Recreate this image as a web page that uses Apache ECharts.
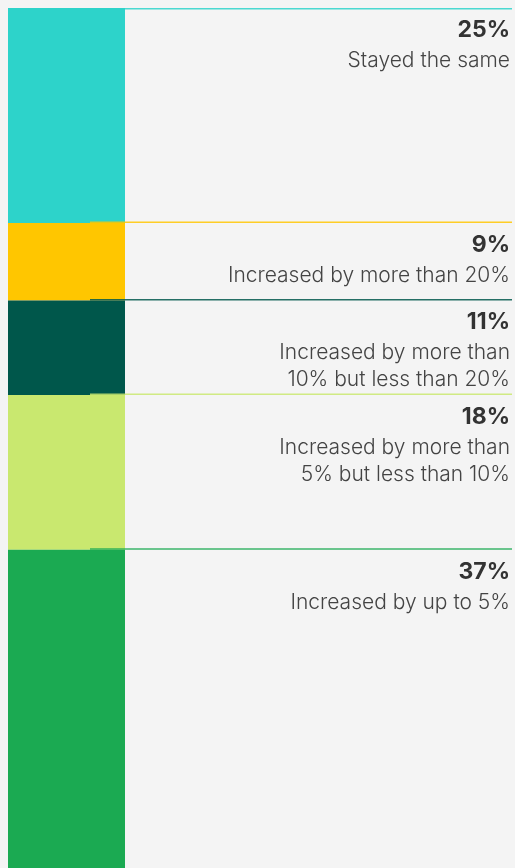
<!DOCTYPE html>
<html>
<head>
<meta charset="utf-8">
<script src="https://cdn.jsdelivr.net/npm/echarts@6/dist/echarts.min.js"></script>
<style>
html,body{margin:0;padding:0;background:#f4f4f4;}
#chart{width:515px;height:868px;}
</style>
</head>
<body>
<div id="chart"></div>
<script>
const categories = [
  'Stayed the same',
  'Increased by more than 20%',
  'Increased by more than\n10% but less than 20%',
  'Increased by more than\n5% but less than 10%',
  'Increased by up to 5%'
];
const values = [25, 9, 11, 18, 37];
const colors = ['#2dd3ca', '#ffc600', '#00574b', '#c9e86f', '#1baa52'];

const starts = [];
let acc = 0;
values.forEach(v => { starts.push(acc); acc += v; });

const chart = echarts.init(document.getElementById('chart'), null, {renderer: 'canvas'});

const barSeries = values.map((v, i) => ({
  type: 'bar',
  stack: 'total',
  xAxisIndex: 0,
  yAxisIndex: 0,
  barWidth: '100%',
  data: [v],
  itemStyle: {color: colors[i]},
  silent: true,
  animation: false
}));

const option = {
  backgroundColor: '#f4f4f4',
  animation: false,
  grid: [
    {left: 8, width: 117, top: 8, bottom: -5},
    {left: 0, right: 0, top: 8, bottom: -5}
  ],
  xAxis: [
    {type: 'category', gridIndex: 0, data: ['all'], show: false},
    {type: 'value', gridIndex: 1, min: 0, max: 515, show: false}
  ],
  yAxis: [
    {type: 'value', gridIndex: 0, min: 0, max: 100, inverse: true, show: false},
    {type: 'value', gridIndex: 1, min: 0, max: 100, inverse: true, show: false}
  ],
  series: barSeries.concat([{
    type: 'custom',
    xAxisIndex: 1,
    yAxisIndex: 1,
    z: 10,
    silent: true,
    data: values.map((v, i) => [0, starts[i], v]),
    renderItem: function (params, api) {
      const i = params.dataIndex;
      const cs = params.coordSys;
      const yTop = api.coord([0, api.value(1)])[1];
      const ly = Math.max(yTop - 1.5, cs.y);
      return {
        type: 'group',
        children: [
          {
            type: 'rect',
            shape: {x: cs.x + (i === 0 ? 125 : 90), y: ly, width: (i === 0 ? 387 : 422), height: 1.5},
            style: {fill: colors[i], opacity: 0.85}
          },
          {
            type: 'text',
            style: {
              text: values[i] + '%',
              x: cs.x + 510, y: yTop + 22,
              align: 'right', verticalAlign: 'middle',
              fill: '#333333',
              font: '700 23px Inter'
            }
          },
          {
            type: 'text',
            style: {
              text: categories[i],
              x: cs.x + 510, y: yTop + 39,
              align: 'right', verticalAlign: 'top',
              fill: '#444444',
              font: '300 21px Inter',
              lineHeight: 27
            }
          }
        ]
      };
    }
  }])
};
chart.setOption(option);
</script>
</body>
</html>
